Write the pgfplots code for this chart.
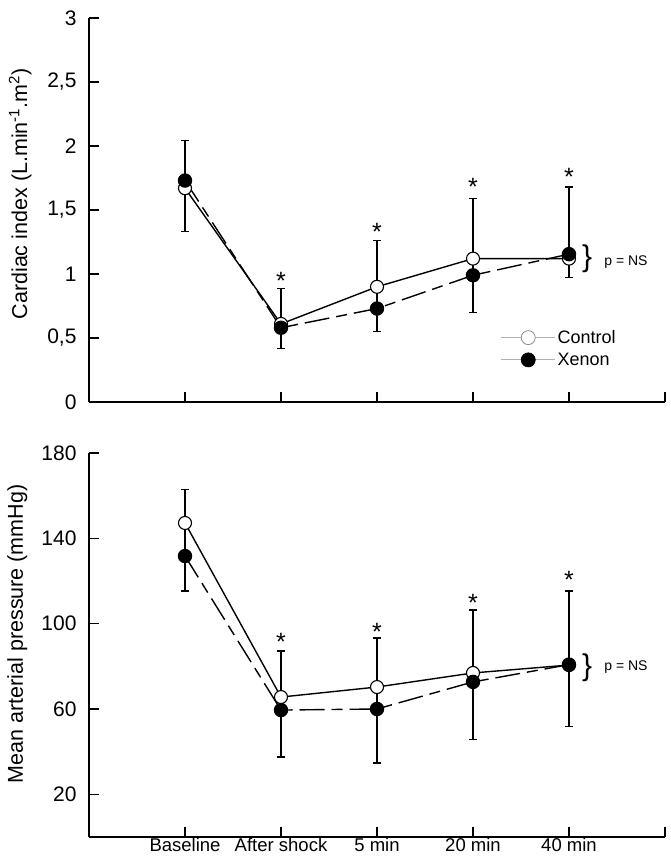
\documentclass[border=0pt]{standalone}
\usepackage{fontspec}
\setmainfont{Liberation Sans}
\usepackage{pgfplots}
\pgfplotsset{compat=1.18}
\pgfplotsset{
  myaxis/.style={
    scale only axis, width=576pt, height=384pt,
    xmin=-1, xmax=5,
    axis x line=bottom, axis y line=left,
    axis line style={line width=1.2pt, black, -},
    x axis line style={-}, y axis line style={-},
    tick align=inside,
    xtick pos=bottom, ytick pos=left,
    major tick length=10pt,
    tick style={line width=1.2pt, black},
    xtick={0,1,2,3,4,5},
    /pgf/number format/assume math mode=true,
    yticklabel style={font=\fontsize{21}{25}\selectfont, xshift=-9pt},
    xticklabel style={font=\fontsize{18.5}{22}\selectfont, yshift=2pt},
    clip=false,
  },
  ctrl/.style={black, line width=1.4pt, mark=*, mark size=6.5pt,
    mark options={fill=white, draw=black, line width=1.1pt}},
  xen/.style={black, line width=1.4pt, dash pattern=on 25pt off 7pt on 11pt off 7pt,
    mark=*, mark size=6.5pt, mark options={solid, fill=black, draw=black}},
  ebar/.style={draw=none, mark=none, forget plot,
    error bars/.cd, y dir=both, y explicit,
    error bar style={draw=black, line width=1.1pt, solid},
    error mark options={draw=black, line width=1.1pt, mark size=4pt, rotate=90}},
  stars/.style={only marks, mark=none, forget plot,
    nodes near coords={*},
    every node near coord/.append style={anchor=base, inner sep=0pt,
      font=\fontsize{25}{28}\selectfont, black}},
  ctrlleg/.style={legend image code/.code={\path (0pt,0pt) -- (54pt,0pt);
    \draw[mark repeat=2, mark phase=2, ##1] plot coordinates {(0pt,0pt) (27pt,0pt) (54pt,0pt)};}},
  xenleg/.style={legend image code/.code={\path (0pt,0pt) -- (54pt,0pt);
    \draw[mark repeat=2, mark phase=2, ##1] plot coordinates {(13pt,0pt) (27pt,0pt) (54pt,0pt)};}},
}
\begin{document}
\begin{tikzpicture}
\path[use as bounding box] (0pt,0pt) rectangle (670pt,859pt);

% ---------------- top: cardiac index ----------------
\begin{axis}[myaxis, at={(89pt,457pt)}, anchor=south west,
  ymin=0, ymax=3,
  ytick={0,0.5,1,1.5,2,2.5,3},
  yticklabels={0,{0,5},1,{1,5},2,{2,5},3},
  xticklabels={},
  ylabel={Cardiac index (L.min\textsuperscript{-1}.m\textsuperscript{2})},
  ylabel style={at={(axis description cs:-0.1076,0.542)}, anchor=base,
    font=\fontsize{21.5}{25}\selectfont},
  legend style={at={(rel axis cs:0.715,0.139)}, anchor=west, draw=none, fill=none,
    inner sep=0pt, outer sep=0pt, row sep=8pt,
    font=\fontsize{18}{21}\selectfont, nodes={inner ysep=0pt}},
  legend cell align=left,
]
\addplot[ebar] coordinates {
  (0,1.685) +- (0,0.355)
  (1,0.655) +- (0,0.235)
  (2,0.905) +- (0,0.355)
  (3,1.145) +- (0,0.445)
  (4,1.325) +- (0,0.355)
};
\addplot[stars] coordinates {(1,0.875) (2,1.258) (3,1.61) (4,1.69)};
\addplot[ctrl, forget plot] coordinates {(0,1.67) (1,0.61) (2,0.90) (3,1.12) (4,1.12)};
\addplot[xen, forget plot] coordinates {(0,1.73) (1,0.58) (2,0.73) (3,0.99) (4,1.155)};
\addlegendimage{ctrlleg, gray!60, line width=0.8pt, mark=*, mark size=7pt,
  mark options={fill=white, draw=gray!90, line width=0.8pt}}
\addlegendimage{xenleg, gray!60, line width=0.8pt, mark=*, mark size=7pt,
  mark options={fill=black, draw=black}}
\legend{Control, Xenon}
\node[font=\fontsize{30}{30}\selectfont, inner sep=0pt] at (axis cs:4.19,1.117) {\}};
\node[font=\fontsize{14}{16}\selectfont, inner sep=0pt, anchor=west] at (axis cs:4.366,1.094) {p = NS};
\end{axis}

% ---------------- bottom: mean arterial pressure ----------------
\begin{axis}[myaxis, at={(89pt,22pt)}, anchor=south west,
  ymin=0, ymax=180,
  ytick={20,60,100,140,180},
  yticklabels={20,60,100,140,180},
  xticklabels={Baseline, After shock, 5 min, 20 min, 40 min, {}},
  ylabel={Mean arterial pressure (mmHg)},
  ylabel style={at={(axis description cs:-0.1146,0.529)}, anchor=base,
    font=\fontsize{21.5}{25}\selectfont},
]
\addplot[ebar] coordinates {
  (0,139.15) +- (0,23.85)
  (1,62.35) +- (0,24.85)
  (2,64.0) +- (0,29.3)
  (3,75.95) +- (0,30.45)
  (4,83.45) +- (0,31.85)
};
\addplot[stars] coordinates {(1,87.6) (2,92.3) (3,105.9) (4,116.7)};
\addplot[ctrl] coordinates {(0,147.2) (1,65.6) (2,70.3) (3,76.9) (4,80.6)};
\addplot[xen] coordinates {(0,131.7) (1,59.5) (2,60.0) (3,72.7) (4,80.8)};
\node[font=\fontsize{30}{30}\selectfont, inner sep=0pt] at (axis cs:4.19,79.5) {\}};
\node[font=\fontsize{14}{16}\selectfont, inner sep=0pt, anchor=west] at (axis cs:4.366,79.7) {p = NS};
\end{axis}
\end{tikzpicture}
\end{document}
